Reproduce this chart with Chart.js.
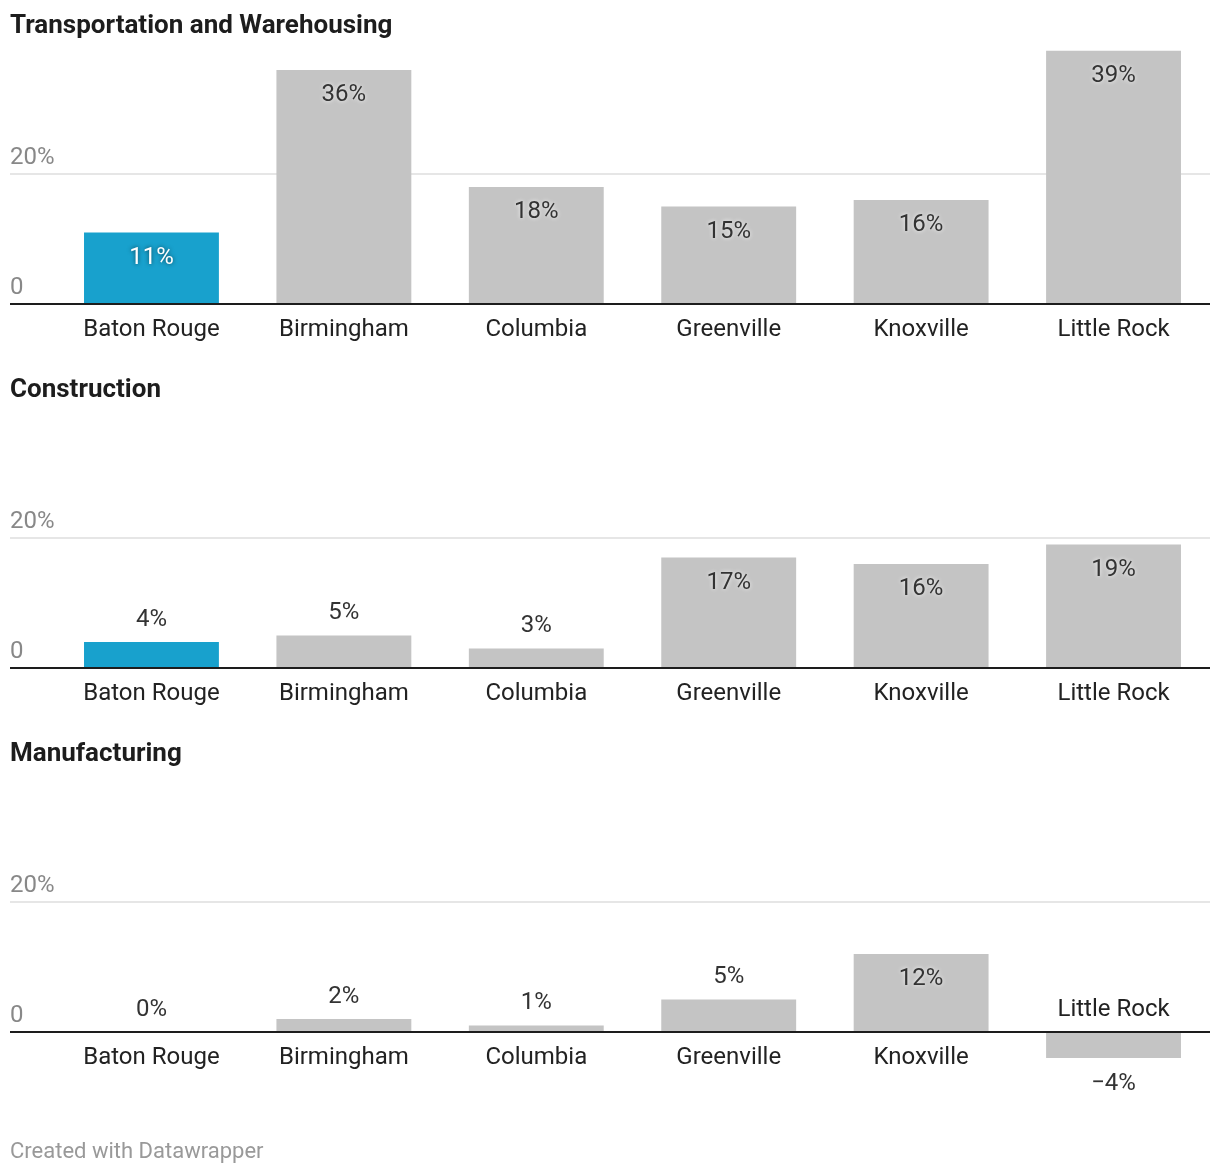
<!DOCTYPE html>
<html>
<head>
<meta charset="utf-8">
<script src="https://cdn.jsdelivr.net/npm/chart.js@4"></script>
<style>
  html, body { margin: 0; padding: 0; background: #fff; }
  body { width: 1220px; height: 1174px; position: relative; overflow: hidden; }
  canvas { position: absolute; left: 0; }
</style>
</head>
<body>
<canvas id="c0" width="1220" height="364" style="top:0px"></canvas>
<canvas id="c1" width="1220" height="364" style="top:364px"></canvas>
<canvas id="c2" width="1220" height="446" style="top:728px"></canvas>
<script>
// ---- data ----
const categories = ['Baton Rouge', 'Birmingham', 'Columbia', 'Greenville', 'Knoxville', 'Little Rock'];
const panelTitles = ['Transportation and Warehousing', 'Construction', 'Manufacturing'];
const transportation = [11, 36, 18, 15, 16, 39];
const construction = [4, 5, 3, 17, 16, 19];
const manufacturing = [0, 2, 1, 5, 12, -4];
const yTickValues = [0, 20];
const yTickLabels = ['0', '20%'];
const footerText = 'Created with Datawrapper';
const highlightIndex = 0;

// ---- styling ----
const FONT = 'Roboto, "Noto Sans", Arial, sans-serif';
const BLUE = '#18a1cd';
const GREY = '#c4c4c4';
const seriesList = [transportation, construction, manufacturing];

function fmt(v) { return (v < 0 ? '\u2212' + Math.abs(v) : v) + '%'; }

function textAt(ctx, str, x, cy, size, weight, color, align) {
  ctx.font = weight + ' ' + size + 'px ' + FONT;
  ctx.fillStyle = color;
  ctx.textAlign = align || 'center';
  ctx.textBaseline = 'alphabetic';
  ctx.fillText(str, x, cy + size * 0.355 - 1);
}

function makePlugin(panelIdx, isLast) {
  return {
    id: 'dw' + panelIdx,
    beforeDatasetsDraw(chart) {
      const ctx = chart.ctx;
      const ys = chart.scales.y;
      ctx.save();
      yTickValues.forEach((t, i) => {
        const py = ys.getPixelForValue(t);
        if (t !== 0) {
          ctx.strokeStyle = '#e6e6e6';
          ctx.lineWidth = 2;
          ctx.beginPath();
          ctx.moveTo(10, py);
          ctx.lineTo(1210, py);
          ctx.stroke();
        }
        textAt(ctx, yTickLabels[i], 10, py - 18, 24, '400', '#888888', 'left');
      });
      // title
      const base = ys.getPixelForValue(0);
      textAt(ctx, panelTitles[panelIdx], 10, base - 279, 26, '700', '#1d1d1d', 'left');
      if (isLast) {
        textAt(ctx, footerText, 10, 423, 22, '400', '#999999', 'left');
      }
      ctx.restore();
    },
    afterDatasetsDraw(chart) {
      const ctx = chart.ctx;
      const ys = chart.scales.y;
      const base = ys.getPixelForValue(0);
      ctx.save();
      ctx.strokeStyle = '#1d1d1d';
      ctx.lineWidth = 2;
      ctx.beginPath();
      ctx.moveTo(10, base);
      ctx.lineTo(1210, base);
      ctx.stroke();
      const meta = chart.getDatasetMeta(0);
      const vals = chart.data.datasets[0].data;
      meta.data.forEach((el, i) => {
        const v = vals[i];
        const x = el.x;
        if (v >= 0) {
          const h = base - el.y;
          if (h > 50) {
            ctx.save();
            if (i === highlightIndex) {
              ctx.shadowColor = 'rgba(0,0,0,0.6)';
              ctx.shadowBlur = 4;
              textAt(ctx, fmt(v), x, el.y + 23.5, 24, '400', '#ffffff');
            } else {
              ctx.shadowColor = 'rgba(255,255,255,0.9)';
              ctx.shadowBlur = 4;
              textAt(ctx, fmt(v), x, el.y + 23.5, 24, '400', '#333333');
            }
            ctx.restore();
          } else {
            textAt(ctx, fmt(v), x, el.y - 24, 24, '400', '#333333');
          }
          textAt(ctx, chart.data.labels[i], x, base + 24, 24, '400', '#222222');
        } else {
          textAt(ctx, fmt(v), x, el.y + 24, 24, '400', '#333333');
          textAt(ctx, chart.data.labels[i], x, base - 24, 24, '400', '#222222');
        }
      });
      ctx.restore();
    }
  };
}

seriesList.forEach((series, p) => {
  const canvas = document.getElementById('c' + p);
  const isLast = p === seriesList.length - 1;
  const yMin = isLast ? -4 : 0;
  const bottomPad = canvas.height - (isLast ? 330 : 304);
  new Chart(canvas, {
    type: 'bar',
    data: {
      labels: categories,
      datasets: [{
        data: series,
        backgroundColor: series.map((v, i) => i === highlightIndex ? BLUE : GREY),
        borderWidth: 0,
        barPercentage: 0.701,
        categoryPercentage: 1.0
      }]
    },
    options: {
      responsive: false,
      maintainAspectRatio: false,
      animation: false,
      devicePixelRatio: 1,
      layout: { padding: { top: 50.5, left: 55.25, right: 10.25, bottom: bottomPad } },
      plugins: { legend: { display: false }, tooltip: { enabled: false }, title: { display: false } },
      scales: {
        x: { display: false, grid: { display: false } },
        y: { display: false, min: yMin, max: 39, grid: { display: false } }
      }
    },
    plugins: [makePlugin(p, isLast)]
  });
});
</script>
</body>
</html>
